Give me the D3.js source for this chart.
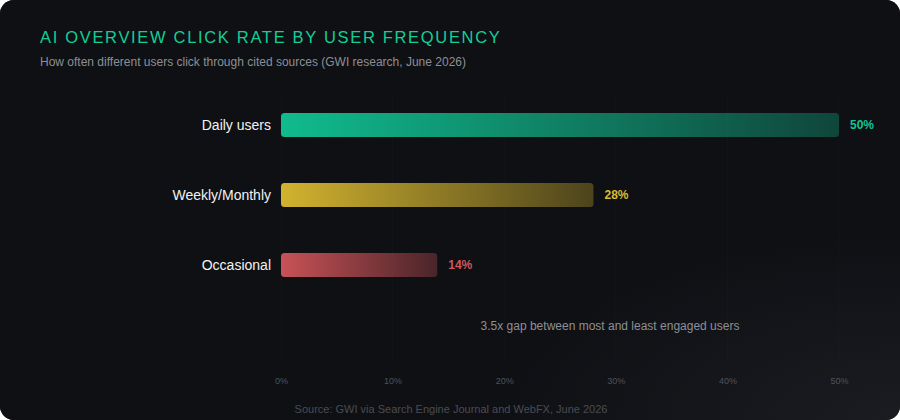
<!DOCTYPE html>
<html>
<head>
<meta charset="utf-8">
<script src="https://cdn.jsdelivr.net/npm/d3@7"></script>
<style>
  html, body { margin: 0; padding: 0; background: #ffffff; }
  svg { display: block; font-family: "Liberation Sans", Arial, sans-serif; }
</style>
</head>
<body>
<div id="chart"></div>
<script>
var categories = ["Daily users", "Weekly/Monthly", "Occasional"];
var values = [50, 28, 14];
var colors = ["#10c494", "#dcbb30", "#d2555a"];
var ticks = [0, 10, 20, 30, 40, 50];

var w = 900, h = 420;

var svg = d3.select("#chart")
  .append("svg")
  .attr("width", w)
  .attr("height", h);

var defs = svg.append("defs");

// soft light patch in the lower right corner
var glow = defs.append("radialGradient")
  .attr("id", "glow")
  .attr("cx", "100%").attr("cy", "100%").attr("r", "45%");
glow.append("stop").attr("offset", "0%").attr("stop-color", "#1a1c21");
glow.append("stop").attr("offset", "100%").attr("stop-color", "#0f1014");

svg.append("rect")
  .attr("width", w).attr("height", h)
  .attr("rx", 14)
  .attr("fill", "#0f1014");
svg.append("rect")
  .attr("width", w).attr("height", h)
  .attr("rx", 14)
  .attr("fill", "url(#glow)");

var x = d3.scaleLinear().domain([0, 50]).range([281, 839]);
var y = d3.scaleBand().domain(categories).range([90, 300]).paddingInner(0.66).paddingOuter(0.33);

// gradients per bar
categories.forEach(function(c, i) {
  var g = defs.append("linearGradient")
    .attr("id", "grad" + i)
    .attr("x1", "0%").attr("x2", "100%");
  g.append("stop").attr("offset", "0%").attr("stop-color", colors[i]).attr("stop-opacity", 0.95);
  g.append("stop").attr("offset", "100%").attr("stop-color", colors[i]).attr("stop-opacity", 0.3);
});

// faint gridlines
svg.append("g")
  .selectAll("line")
  .data(ticks)
  .enter()
  .append("line")
  .attr("x1", function(d) { return x(d); })
  .attr("x2", function(d) { return x(d); })
  .attr("y1", 95)
  .attr("y2", 362)
  .attr("stroke", "#ffffff")
  .attr("stroke-opacity", 0.02);

svg.append("text")
  .attr("x", 40).attr("y", 43)
  .attr("fill", "#12cf97")
  .attr("font-size", 16.5)
  .attr("letter-spacing", 1.68)
  .text("AI OVERVIEW CLICK RATE BY USER FREQUENCY");

svg.append("text")
  .attr("x", 40).attr("y", 66)
  .attr("fill", "#8d8f95")
  .attr("font-size", 12)
  .text("How often different users click through cited sources (GWI research, June 2026)");

var rows = svg.append("g")
  .selectAll("g")
  .data(categories)
  .enter()
  .append("g");

rows.append("rect")
  .attr("x", x(0))
  .attr("y", function(d) { return y(d); })
  .attr("width", function(d, i) { return x(values[i]) - x(0); })
  .attr("height", y.bandwidth())
  .attr("rx", 3.5)
  .attr("fill", function(d, i) { return "url(#grad" + i + ")"; });

rows.append("text")
  .attr("x", 271)
  .attr("y", function(d) { return y(d) + y.bandwidth() / 2; })
  .attr("dy", "0.35em")
  .attr("text-anchor", "end")
  .attr("fill", "#f2f2f2")
  .attr("font-size", 14)
  .text(function(d) { return d; });

rows.append("text")
  .attr("x", function(d, i) { return x(values[i]) + 11; })
  .attr("y", function(d) { return y(d) + y.bandwidth() / 2; })
  .attr("dy", "0.35em")
  .attr("fill", function(d, i) { return colors[i]; })
  .attr("font-size", 12)
  .attr("font-weight", "bold")
  .text(function(d, i) { return values[i] + "%"; });

svg.append("text")
  .attr("x", 610).attr("y", 330)
  .attr("text-anchor", "middle")
  .attr("fill", "#8d8f95")
  .attr("font-size", 12)
  .text("3.5x gap between most and least engaged users");

var axis = d3.axisBottom(x)
  .tickValues(ticks)
  .tickSize(0)
  .tickFormat(function(d) { return d + "%"; });

var ax = svg.append("g")
  .attr("transform", "translate(0,375)")
  .call(axis);
ax.select(".domain").remove();
ax.selectAll("text")
  .attr("fill", "#50525a")
  .attr("font-size", 9)
  .attr("font-family", "Liberation Sans, Arial, sans-serif");

svg.append("text")
  .attr("x", 451).attr("y", 413)
  .attr("text-anchor", "middle")
  .attr("fill", "#4a4c52")
  .attr("font-size", 11)
  .text("Source: GWI via Search Engine Journal and WebFX, June 2026");
</script>
</body>
</html>
